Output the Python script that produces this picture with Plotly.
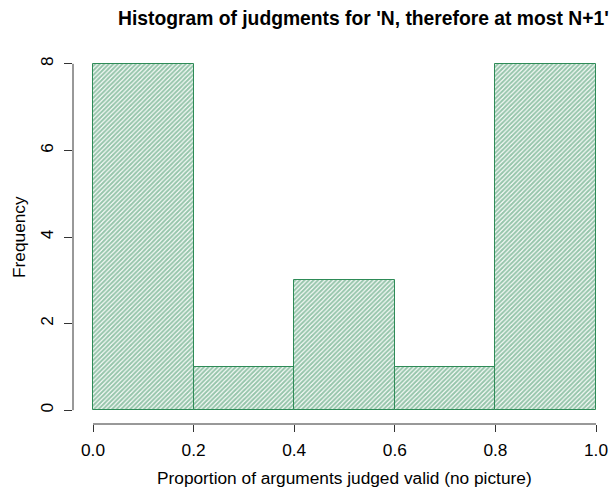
import plotly.graph_objects as go

bin_edges = [0.0, 0.2, 0.4, 0.6, 0.8, 1.0]
counts = [8, 1, 3, 1, 8]
x_ticks = [0.0, 0.2, 0.4, 0.6, 0.8, 1.0]
x_tick_labels = ["0.0", "0.2", "0.4", "0.6", "0.8", "1.0"]
y_ticks = [0, 2, 4, 6, 8]
y_tick_labels = ["0", "2", "4", "6", "8"]

title = "Histogram of judgments for 'N, therefore at most N+1'"
xlab = "Proportion of arguments judged valid (no picture)"
ylab = "Frequency"

green = "#2E8B57"
font = "Liberation Sans, Arial, sans-serif"

lefts = bin_edges[:-1]
widths = [b - a for a, b in zip(bin_edges[:-1], bin_edges[1:])]

fig = go.Figure()
fig.add_trace(go.Bar(
    x=lefts, y=counts, width=widths, offset=0,
    marker=dict(
        color="white",
        line=dict(color=green, width=1),
        pattern=dict(shape="/", fgcolor=green, bgcolor="white", size=3.2, solidity=0.65),
    ),
    showlegend=False, hoverinfo="skip",
))

W, H = 610, 488
l, r, t, b = 73, 0, 50, 64
# map so that 0 -> 93 px, 1 -> 596 px
ppu = 503.0
x0 = -(93 - l) / ppu
x1 = (W - r - 93) / ppu
fs = 17.3

fig.update_layout(
    width=W, height=H,
    margin=dict(l=l, r=r, t=t, b=b, pad=0, autoexpand=False),
    paper_bgcolor="white", plot_bgcolor="white",
    font=dict(family=font, size=fs, color="black"),
    bargap=0,
    xaxis=dict(
        range=[x0, x1], showgrid=False, zeroline=False, showline=False,
        automargin=False,
        tickmode="array", tickvals=x_ticks, ticktext=x_tick_labels,
        ticks="outside", ticklen=7, tickcolor="#333", tickwidth=1,
        ticklabelstandoff=3,
        tickfont=dict(size=fs),
    ),
    yaxis=dict(
        range=[-0.32, 8.32], showgrid=False, zeroline=False, showline=False,
        automargin=False,
        tickmode="array", tickvals=y_ticks, ticktext=y_tick_labels,
        ticks="outside", ticklen=8, tickcolor="#333", tickwidth=1,
        tickangle=-90, ticklabelstandoff=4,
        tickfont=dict(size=fs),
    ),
    shapes=[
        dict(type="line", xref="x", yref="paper", x0=bin_edges[0], x1=bin_edges[-1], y0=0, y1=0,
             line=dict(color="#333", width=1)),
        dict(type="line", xref="paper", yref="y", x0=0, x1=0, y0=y_ticks[0], y1=y_ticks[-1],
             line=dict(color="#333", width=1)),
    ],
    annotations=[
        dict(text="<b>" + title + "</b>", xref="paper", yref="paper",
             x=(363 - l) / (W - l - r), y=1 + (50 - 18) / (H - t - b),
             xanchor="center", yanchor="middle", showarrow=False,
             font=dict(size=19.3)),
        dict(text=xlab, xref="x", yref="paper", x=0.5,
             y=-(478 - (H - b)) / (H - t - b), xanchor="center", yanchor="middle",
             showarrow=False, font=dict(size=fs)),
        dict(text=ylab, xref="paper", yref="y", x=-(l - 19) / (W - l - r), y=4,
             xanchor="center", yanchor="middle", textangle=-90,
             showarrow=False, font=dict(size=fs)),
    ],
)

fig.write_html("out.html", config={"displayModeBar": False},
               post_script="document.body.style.margin='0px';document.body.style.overflow='hidden';")
